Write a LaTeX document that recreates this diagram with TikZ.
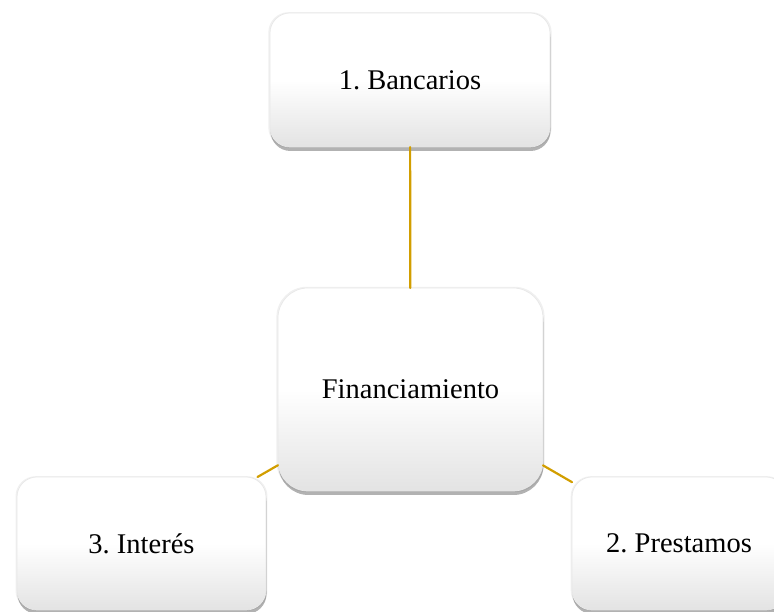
\documentclass[tikz,border=0pt]{standalone}
\usepackage{fontspec}
\setmainfont{Liberation Serif}
\usepackage{tikz}
\usetikzlibrary{shadows}
\definecolor{linkgold}{RGB}{210,158,0}
\pgfdeclareverticalshading{boxshade}{100bp}{color(0bp)=(black!11); color(25bp)=(black!11); color(50bp)=(white); color(100bp)=(white)}

\begin{document}
\frenchspacing
\begin{tikzpicture}[x=1pt, y=1pt, style={line cap = round},
  box/.style={rounded corners=20pt, shading=boxshade, draw=black!9, line width=0.7pt,
    general shadow={shadow scale=1.012, fill=black, opacity=0.06},
    drop shadow={shadow xshift=0.5pt, shadow yshift=-4pt, fill=black, opacity=0.3},
    align=center, inner sep=0pt, outer sep=0pt},
  link/.style={draw=linkgold, line width=2.2pt}]
  \fontsize{28.5}{34}\selectfont
  \path[use as bounding box, clip] (0,0) rectangle (774,612);

  \node[box, rounded corners=30pt, minimum width=265pt, minimum height=203pt] (fin) at (410.5,222.5) {Financiamiento};
  \node[box, minimum width=280pt, minimum height=134pt] (banc) at (410,532) {1. Bancarios};
  \node[box, minimum width=249pt, minimum height=133pt] (inter) at (141.5,68.5) {3. Inter\'es};
  \node[box, minimum width=214pt, minimum height=133pt] (prest) at (679,68.5) {2. Prestamos};

  \draw[link] (fin) -- (banc);
  \draw[link] (fin) -- (inter);
  \draw[link] (fin) -- (prest);

\end{tikzpicture}
\end{document}
